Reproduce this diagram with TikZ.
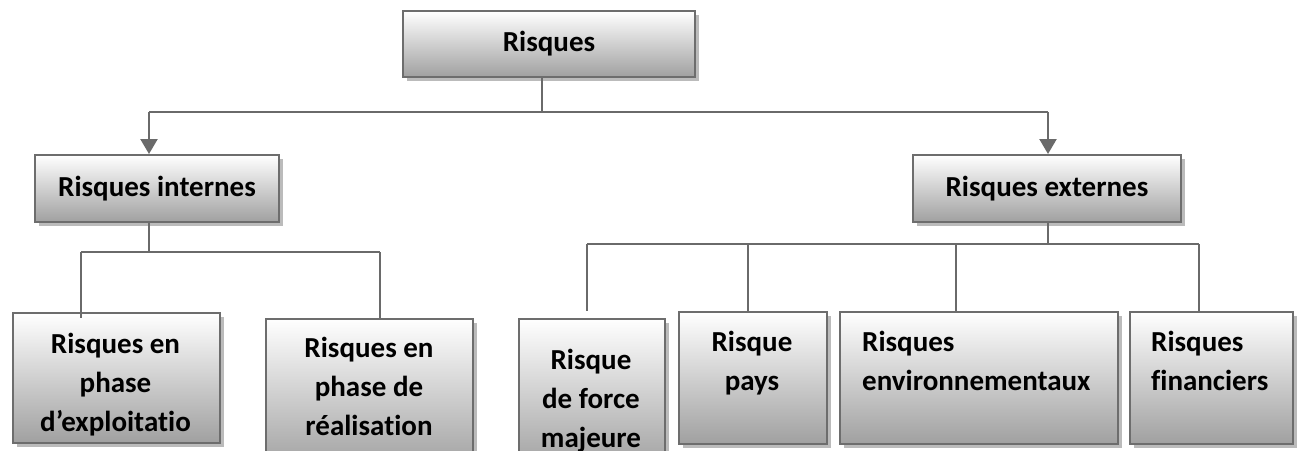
\documentclass[tikz,border=0pt]{standalone}
\usepackage{fontspec}
\setmainfont{Carlito}[Ligatures=NoCommon]
\usetikzlibrary{shadows,arrows.meta}
\definecolor{linec}{HTML}{6A6A6A}
\definecolor{borderc}{HTML}{6D6D6D}
\definecolor{shadowc}{HTML}{BBBBBB}
\definecolor{bottomc}{HTML}{A0A0A0}
\tikzset{
  box/.style={draw=borderc, line width=2pt, top color=white, bottom color=bottomc,
    drop shadow={shadow xshift=3.5pt, shadow yshift=-3.5pt, fill=shadowc, opacity=1},
    inner sep=0pt, anchor=north west},
  lbl/.style={font=\fontsize{29}{39}\selectfont\bfseries, inner sep=0pt},
  conn/.style={draw=linec, line width=2.3pt},
  arr/.style={conn, -{Triangle[length=15pt,width=17pt]}}
}
\begin{document}
\begin{tikzpicture}[x=1pt,y=-1pt]
\useasboundingbox (0,0) rectangle (1299,450);
\clip (0,0) rectangle (1299,450);
% boxes
\node[box, minimum width=292pt, minimum height=66pt] (top) at (402,10) {};
\node[box, minimum width=244pt, minimum height=67pt] (int) at (34,154) {};
\node[box, minimum width=268pt, minimum height=67pt] (ext) at (912,154) {};
\node[box, minimum width=207pt, minimum height=130pt] (b1) at (12,312) {};
\node[box, minimum width=207pt, minimum height=150pt] (b2) at (265,318) {};
\node[box, minimum width=146pt, minimum height=150pt] (b3) at (518,318) {};
\node[box, minimum width=148pt, minimum height=132pt] (b4) at (678,311) {};
\node[box, minimum width=278pt, minimum height=132pt] (b5) at (839,311) {};
\node[box, minimum width=163pt, minimum height=132pt] (b6) at (1129,311) {};
% labels
\node[lbl] (ttop) at (top.center) {Risques};
\node[lbl] (tint) at (int.center) {Risques internes};
\node[lbl] (text) at (ext.center) {Risques externes};
\begin{scope}
\clip (b1.north west) rectangle (b1.south east);
\node[lbl, align=center, anchor=north] (t1) at (115.5,333) {Risques en\\phase\\d’exploitatio};
\end{scope}
\node[lbl, align=center, anchor=north] (t2) at (369,337) {Risques en\\phase de\\réalisation};
\node[lbl, align=center, anchor=north] (t3) at (591,349) {Risque\\de force\\majeure};
\node[lbl, align=center, anchor=north] (t4) at (752,331) {Risque\\pays};
\node[lbl, align=left, anchor=north west] (t5) at (862,331) {Risques\\environnementaux};
\node[lbl, align=left, anchor=north west] (t6) at (1151,331) {Risques\\financiers};
% connector junctions
\coordinate (j0) at (542,112);
\coordinate (aL) at (149,112);
\coordinate (aR) at (1048,112);
\coordinate (jI) at (149,252);
\coordinate (iL) at (81,252);
\coordinate (iR) at (380,252);
\coordinate (jE) at (1048,244);
\coordinate (eA) at (587,244);
\coordinate (eB) at (748,244);
\coordinate (eC) at (956,244);
\coordinate (eD) at (1199,244);
% connectors
\draw[conn] (j0 |- top.south) -- (j0);
\draw[conn] (aL) -- (aR);
\draw[arr] (aL) -- (aL |- int.north);
\draw[arr] (aR) -- (aR |- ext.north);
\draw[conn] (jI |- int.south) -- (jI);
\draw[conn] (iL) -- (iR);
\draw[conn] (iL) -- (81,318);
\draw[conn] (iR) -- (iR |- b2.north);
\draw[conn] (jE |- ext.south) -- (jE);
\draw[conn] (eA) -- (eD);
\draw[conn] (eA) -- (587,311);
\draw[conn] (eB) -- (eB |- b4.north);
\draw[conn] (eC) -- (eC |- b5.north);
\draw[conn] (eD) -- (eD |- b6.north);
\end{tikzpicture}
\end{document}
